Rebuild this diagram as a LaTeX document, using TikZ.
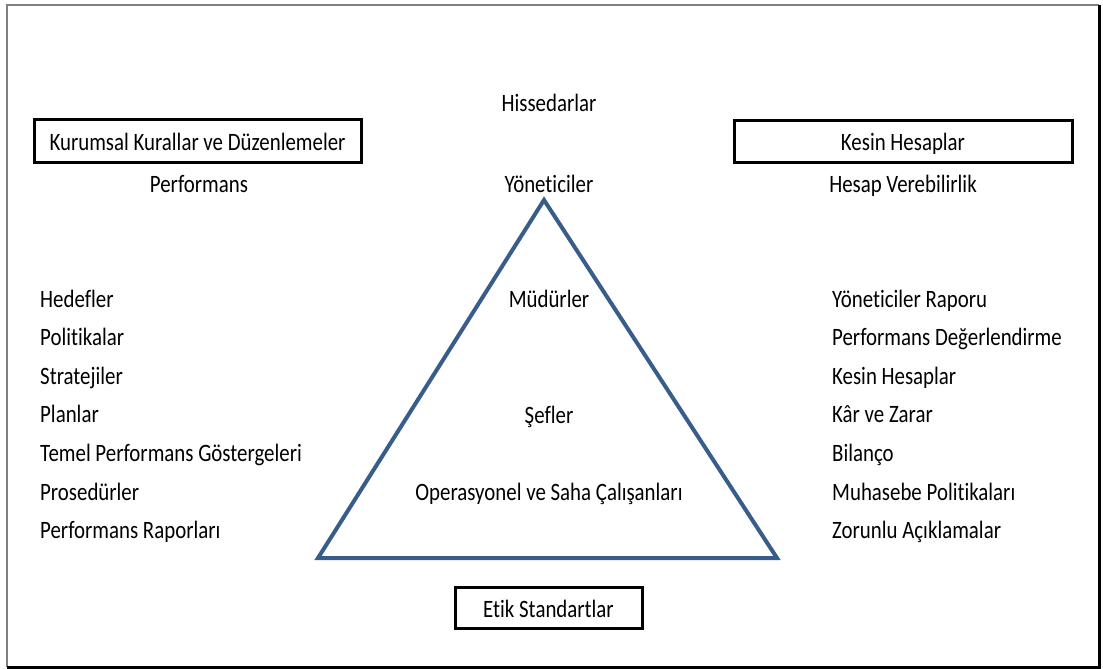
\documentclass[tikz,border=0pt]{standalone}
\usepackage{fontspec}
\setmainfont{Carlito}[FakeStretch=0.835,Ligatures=NoCommon]
\definecolor{pyrblue}{HTML}{385D8A}
\begin{document}
\begin{tikzpicture}[x=1pt,y=-1pt,
    every node/.style={inner sep=0pt,font=\fontsize{25}{30}\selectfont},
    lbl/.style={anchor=base},
    item/.style={anchor=base west},
    framed/.style={draw,line width=3pt,text height=24pt,text depth=5pt}]
  \useasboundingbox (0,0) rectangle (1103,669);
  % outer frame
  \draw[gray,line width=2pt] (7,667) -- (7,5) -- (1099,5);
  \draw[line width=3pt] (1099,5) -- (1099,667) -- (7,667);
  % boxes
  \draw
    (197.5,140.5) node[framed,minimum width=327pt,minimum height=43pt] (kurallar){Kurumsal Kurallar ve Düzenlemeler}
    (903,141) node[framed,minimum width=338pt,minimum height=42pt] (kesin){Kesin Hesaplar}
    (548.5,607.5) node[framed,minimum width=187pt,minimum height=41pt] (etik){Etik Standartlar};
  % titles
  \draw
    (549,111) node[lbl] (hissedar){Hissedarlar}
    (199,192) node[lbl] (perf){Performans}
    (549,192) node[lbl] (yonetici){Yöneticiler}
    (903,192) node[lbl] (hesap){Hesap Verebilirlik};
  % pyramid
  \coordinate (top) at (544,200);
  \coordinate (bl) at (318,558);
  \coordinate (br) at (777,558);
  \draw[pyrblue,line width=4pt] (top) -- (bl) -- (br) -- cycle;
  \draw
    (549,307) node[lbl] (mudur){Müdürler}
    (549,423) node[lbl] (sef){Şefler}
    (549,500) node[lbl] (saha){Operasyonel ve Saha Çalışanları};
  % left list
  \draw
    (40,307) node[item] (l1){Hedefler}
    (40,345) node[item] (l2){Politikalar}
    (40,384) node[item] (l3){Stratejiler}
    (40,422) node[item] (l4){Planlar}
    (40,461) node[item] (l5){Temel Performans Göstergeleri}
    (40,500) node[item] (l6){Prosedürler}
    (40,538) node[item] (l7){Performans Raporları};
  % right list
  \draw
    (832,307) node[item] (r1){Yöneticiler Raporu}
    (832,345) node[item] (r2){Performans Değerlendirme}
    (832,384) node[item] (r3){Kesin Hesaplar}
    (832,422) node[item] (r4){Kâr ve Zarar}
    (832,461) node[item] (r5){Bilanço}
    (832,500) node[item] (r6){Muhasebe Politikaları}
    (832,538) node[item] (r7){Zorunlu Açıklamalar};
\end{tikzpicture}
\end{document}
